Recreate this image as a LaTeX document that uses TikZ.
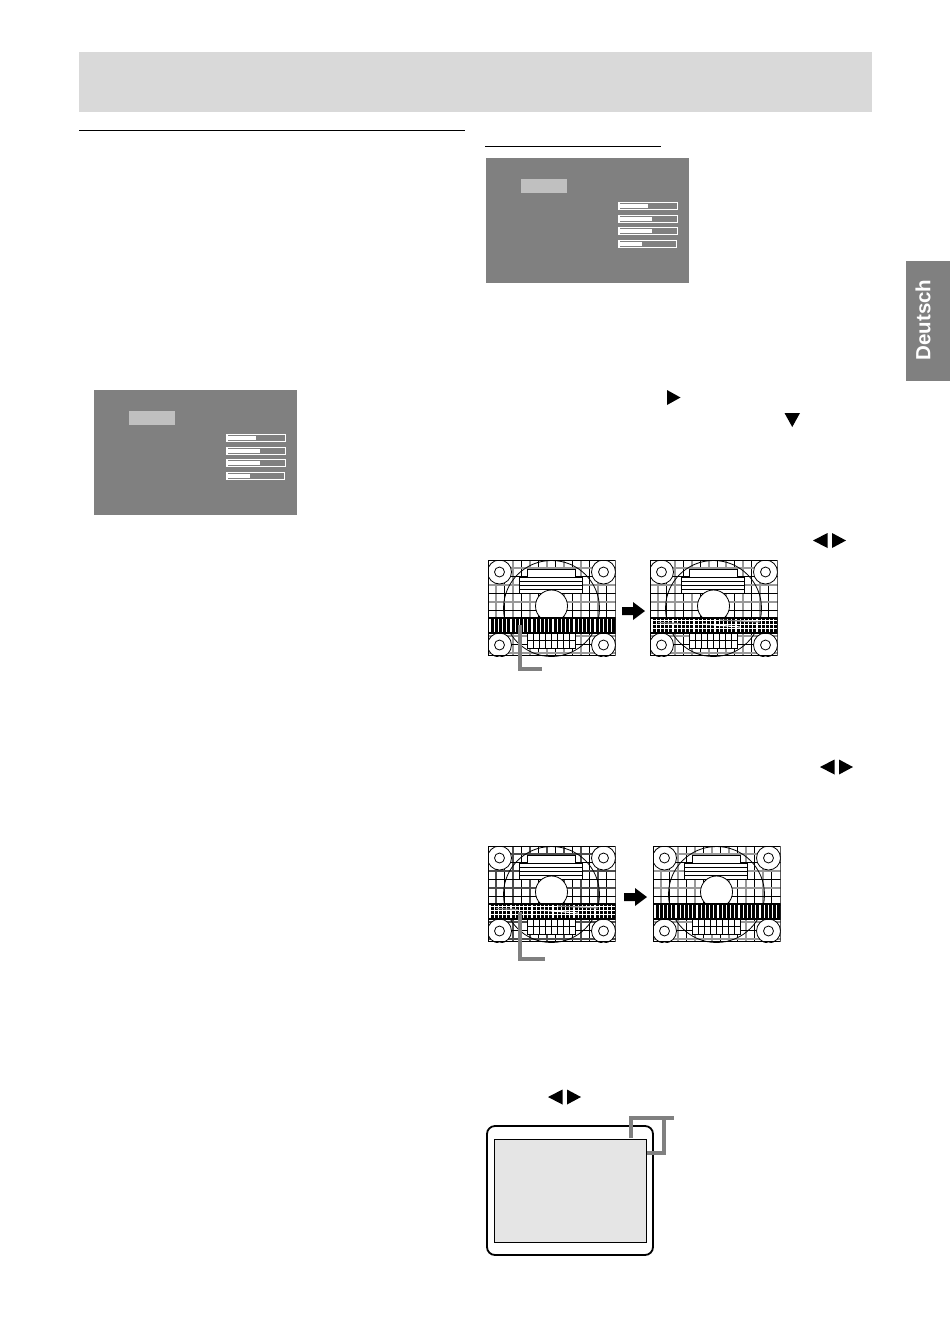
\documentclass[tikz,border=0pt]{standalone}
\usepackage{fontspec}
\setsansfont{Liberation Sans}
\definecolor{bandgray}{HTML}{D9D9D9}
\definecolor{osdgray}{HTML}{808080}
\definecolor{osdhigh}{HTML}{C0C0C0}
\definecolor{screengray}{HTML}{E5E5E5}
\tikzset{
    barbox/.style={draw=white,line width=1.2pt},
    leaderline/.style={draw=osdgray,line width=3.2pt},
    patline/.style={draw=black,line width=0.8pt},
    softline/.style={line width=1.2pt},
}
% ===== OSD panel =====
\newcommand{\osdpanel}[6]{
\begin{scope}[shift={(#1,#2)}]
    \fill[osdgray] (0,0) rectangle (203.4,125);
    \fill[osdhigh] (35,21) rectangle (81,35);
    \draw[barbox] (133,44.5) rectangle (191.5,51.5);
    \draw[barbox] (133,57.5) rectangle (191.5,64.5);
    \draw[barbox] (133,69.5) rectangle (191.5,76.5);
    \draw[barbox] (133,82.5) rectangle (190.5,89.5);
    \fill[white] (134,46) rectangle ++(#3,4);
    \fill[white] (134,59) rectangle ++(#4,4);
    \fill[white] (134,71) rectangle ++(#5,4);
    \fill[white] (134,84) rectangle ++(#6,4);
\end{scope}
}
% ===== Test pattern, #3=1 clean band, #3=0 noisy band, #4 soft grid shade =====
\newcommand{\testpat}[4]{
\begin{scope}[shift={(#1,#2)}]
    \clip (0,0) rectangle (127.6,96);
    \foreach \x in {8,25,42,59,76,93,110} {
        \draw[softline,draw=#4] (\x,0) -- (\x,96);
    }
    \foreach \x in {16.5,33.5,50.5,67.5,84.5,101.5,118.5} {
        \draw[patline] (\x,0) -- (\x,96);
    }
    \foreach \y in {8,25,42,59,76,93} {
        \draw[softline,draw=#4] (0,\y) -- (127.6,\y);
    }
    \foreach \y in {16.5,33.5,50.5,84.5} {
        \draw[patline] (0,\y) -- (127.6,\y);
    }
    \draw[patline] (63.5,48.5) circle (48);
    % ===== Corner circles =====
    \foreach \x in {11.5,115.5} {
        \foreach \y in {12,85} {
            \draw[patline,fill=white] (\x,\y) circle (12);
            \draw[patline,fill=white] (\x,\y) circle (5);
        }
    }
    % ===== Top boxes =====
    \draw[patline,fill=white] (39.5,9) rectangle (87.5,17);
    \draw[patline,fill=white] (31.5,17) rectangle (94.5,33.5);
    \foreach \y in {21,25,29} {
        \draw[patline] (31.5,\y) -- (94.5,\y);
    }
    \draw[patline,fill=white] (63.5,46) circle (16);
    % ===== Lower grid =====
    \draw[patline,fill=white] (39.5,73) rectangle (87.5,88);
    \draw[patline] (39.5,80.5) -- (87.5,80.5);
    \foreach \x in {45.5,51.5,57.5,63.5,69.5,75.5,81.5} {
        \draw[patline] (\x,73) -- (\x,88);
    }
    % ===== Band =====
    \fill[black] (0,57) rectangle (127.6,73.5);
    \foreach \x in {2,6.2,...,126} {
        \draw[white,line width=1.2pt] (\x,58.5) -- (\x,72);
    }
    \ifnum#3=0
        \foreach \y in {60.5,64.5,68.5} {
            \draw[white,line width=1.1pt] (1,\y) -- (126.5,\y);
        }
        \draw[black!45,line width=1.2pt] (8,62.5) -- (30,63.5);
        \draw[white,line width=1.2pt] (52,64) -- (90,67);
        \draw[black!45,line width=1.2pt] (70,60) -- (110,62);
    \fi
    \draw[black,line width=1.1pt] (0.5,0.5) rectangle (127.1,95.5);
\end{scope}
}
\newcommand{\leftrightpair}[2]{
    \fill (#1,#2) -- ++(14.5,-7.5) -- ++(0,15) -- cycle;
    \fill (#1+19,#2-7.5) -- ++(14,7.5) -- ++(-14,7.5) -- cycle;
}
\begin{document}
\begin{tikzpicture}[x=1pt,y=-1pt]
\useasboundingbox (0,0) rectangle (950,1341);
\fill[white] (0,0) rectangle (950,1341);

% ===== Header =====
\fill[bandgray] (79,52) rectangle (872,112);
\draw[line width=0.9pt] (79,130) -- (465,130);
\draw[line width=0.9pt] (485,146) -- (661,146);

% ===== Language tab =====
\fill[osdgray] (906,261) rectangle (950,381);
\node[rotate=90,text=white,font=\sffamily\bfseries\fontsize{20.5}{24}\selectfont] (tablabel) at (923,320) {Deutsch};

% ===== OSD panels =====
\osdpanel{486}{158}{28}{32}{31.5}{22}
\osdpanel{94}{390}{28}{32}{32}{22}

% ===== Button arrows =====
\fill (667,390) -- ++(13.5,7.5) -- ++(-13.5,7.5) -- cycle;
\fill (784.5,413) -- ++(15.5,0) -- ++(-7.75,14) -- cycle;
\leftrightpair{813}{540.5}
\leftrightpair{820}{767}
\leftrightpair{548}{1097}

% ===== Test patterns =====
\testpat{488}{560}{1}{black!40}
\testpat{650}{560}{0}{black!40}
\testpat{488}{846}{0}{black!70}
\testpat{653}{846}{1}{black!40}

\fill (622,607) -- (633,607) -- (633,602) -- (645,611) -- (633,620) -- (633,615) -- (622,615) -- cycle;
\fill (624,893) -- (635,893) -- (635,888) -- (647,897) -- (635,906) -- (635,901) -- (624,901) -- cycle;

% ===== Leader lines =====
\coordinate (leadA) at (520,625);
\coordinate (leadAend) at (542,669);
\draw[leaderline] (leadA) |- (leadAend);
\coordinate (leadB) at (520,912);
\coordinate (leadBend) at (545,959);
\draw[leaderline] (leadB) |- (leadBend);

% ===== Monitor =====
\draw[line width=1.8pt,rounded corners=8pt] (487,1126) rectangle (653,1255);
\draw[line width=1pt,fill=screengray] (494.5,1139) rectangle (646.5,1242.5);
\coordinate (bezelend) at (631,1138);
\coordinate (topend) at (674,1118);
\coordinate (edgeend) at (647,1153);
\draw[leaderline] (bezelend) |- (topend);
\draw[leaderline] (664,1118) |- (edgeend);

\end{tikzpicture}
\end{document}
